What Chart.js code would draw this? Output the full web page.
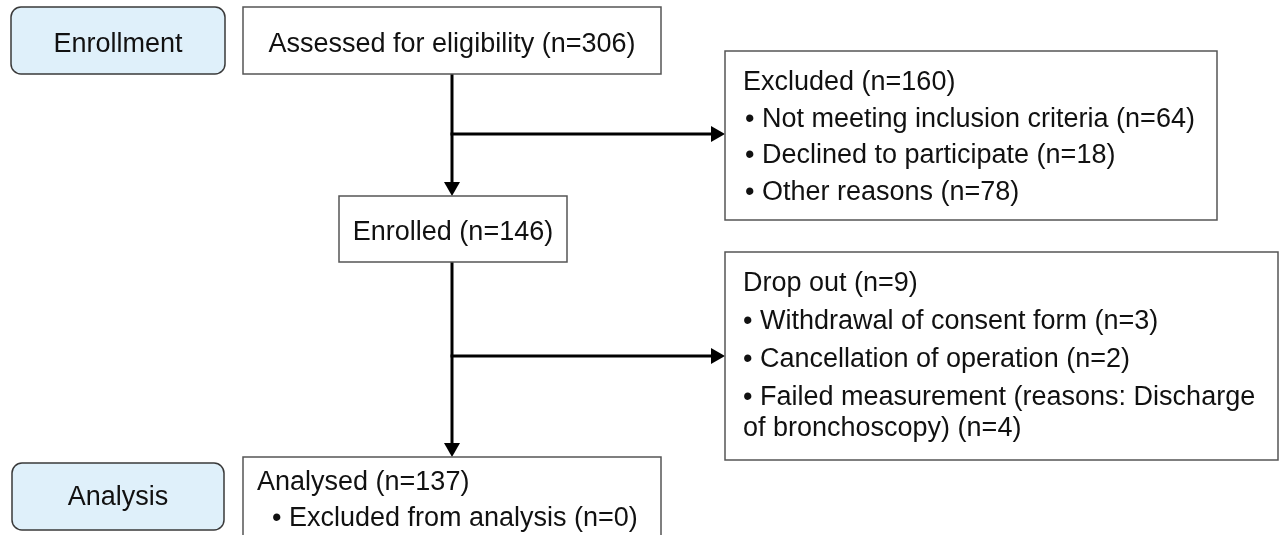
<!DOCTYPE html>
<html>
<head>
<meta charset="utf-8">
<script src="https://cdn.jsdelivr.net/npm/chart.js@4.4.1/dist/chart.umd.min.js"></script>
<style>
  html, body { margin: 0; padding: 0; background: #ffffff; }
  #wrap { width: 1280px; height: 535px; position: relative; }
</style>
</head>
<body>
<div id="wrap"><canvas id="flow"></canvas></div>
<script>
// CONSORT flow diagram, drawn on a blank Chart.js canvas with a small plugin

const stageLabels = ["Enrollment", "Analysis"];
const assessedCount = 306;
const enrolledCount = 146;
const analysedCount = 137;
const excludedReasons = ["Not meeting inclusion criteria", "Declined to participate", "Other reasons"];
const excludedCounts = [64, 18, 78];
const dropoutReasons = [
  "Withdrawal of consent form",
  "Cancellation of operation",
  "Failed measurement (reasons: Discharge of bronchoscopy)",
];
const dropoutCounts = [3, 2, 4];
const analysisExcludedCount = 0;

const sum = (arr) => arr.reduce((a, b) => a + b, 0);

// layout, in the units of the hidden x/y scales (0..1280, 0..535)
const layout = {
  stageEnroll: { x0: 11, y0: 7, x1: 225, y1: 74 },
  stageAnalysis: { x0: 12, y0: 463, x1: 224, y1: 530 },
  assessed: { x0: 243, y0: 7, x1: 661, y1: 74 },
  excluded: { x0: 725, y0: 51, x1: 1217, y1: 220 },
  enrolled: { x0: 339, y0: 196, x1: 567, y1: 262 },
  dropout: { x0: 725, y0: 252, x1: 1278, y1: 460 },
  analysed: { x0: 243, y0: 457, x1: 661, y1: 548 },
  trunkX: 452,
  branch1Y: 134,
  branch2Y: 356,
};

const FONT = '27px "Liberation Sans", Arial, sans-serif';
const TEXT = "#111111";

const flowPlugin = {
  id: "flow",
  afterDraw(chart) {
    const ctx = chart.ctx;
    const xs = chart.scales.x;
    const ys = chart.scales.y;
    const X = (v) => xs.getPixelForValue(v);
    const Y = (v) => ys.getPixelForValue(v);

    function rect(b, fill, stroke, radius) {
      const x = X(b.x0), y = Y(b.y0), w = X(b.x1) - x, h = Y(b.y1) - y;
      ctx.beginPath();
      if (radius) ctx.roundRect(x, y, w, h, radius);
      else ctx.rect(x, y, w, h);
      ctx.fillStyle = fill;
      ctx.fill();
      ctx.lineWidth = 1.5;
      ctx.strokeStyle = stroke;
      ctx.stroke();
    }

    function centerText(str, b, baseline) {
      ctx.font = FONT;
      ctx.fillStyle = TEXT;
      ctx.textAlign = "center";
      ctx.textBaseline = "alphabetic";
      ctx.fillText(str, X((b.x0 + b.x1) / 2), Y(baseline));
    }

    function wrap(str, maxW) {
      const words = str.split(" ");
      const lines = [];
      let cur = "";
      words.forEach((w) => {
        const test = cur ? cur + " " + w : w;
        if (ctx.measureText(test).width > maxW && cur) {
          lines.push(cur);
          cur = w;
        } else {
          cur = test;
        }
      });
      if (cur) lines.push(cur);
      return lines;
    }

    // paragraphs: first one is the heading, the rest are bullet items
    function listText(b, heading, items, opts) {
      ctx.font = FONT;
      ctx.fillStyle = TEXT;
      ctx.textAlign = "left";
      ctx.textBaseline = "alphabetic";
      let yy = opts.first;
      ctx.fillText(heading, X(opts.left), Y(yy));
      items.forEach((it) => {
        yy += opts.paraGap;
        const lines = wrap(it, opts.maxW);
        lines.forEach((ln, i) => {
          if (i > 0) yy += opts.lineGap;
          ctx.fillText(ln, X(opts.itemLeft), Y(yy));
        });
      });
    }

    function arrow(x0, y0, x1, y1) {
      const ang = Math.atan2(Y(y1) - Y(y0), X(x1) - X(x0));
      const len = 14, half = 8;
      ctx.strokeStyle = "#000";
      ctx.lineWidth = 3;
      ctx.beginPath();
      ctx.moveTo(X(x0), Y(y0));
      ctx.lineTo(X(x1) - Math.cos(ang) * len, Y(y1) - Math.sin(ang) * len);
      ctx.stroke();
      const tx = X(x1), ty = Y(y1);
      const bx = tx - Math.cos(ang) * len, by = ty - Math.sin(ang) * len;
      ctx.beginPath();
      ctx.moveTo(tx, ty);
      ctx.lineTo(bx - Math.sin(ang) * half, by + Math.cos(ang) * half);
      ctx.lineTo(bx + Math.sin(ang) * half, by - Math.cos(ang) * half);
      ctx.closePath();
      ctx.fillStyle = "#000";
      ctx.fill();
    }

    ctx.save();

    // connectors
    const L = layout;
    arrow(L.trunkX, L.assessed.y1, L.trunkX, L.enrolled.y0);
    arrow(L.trunkX - 1.5, L.branch1Y, L.excluded.x0, L.branch1Y);
    arrow(L.trunkX, L.enrolled.y1, L.trunkX, L.analysed.y0);
    arrow(L.trunkX - 1.5, L.branch2Y, L.dropout.x0, L.branch2Y);

    // stage labels
    rect(L.stageEnroll, "#dff0fa", "#3a3a3a", 10);
    centerText(stageLabels[0], L.stageEnroll, 52);
    rect(L.stageAnalysis, "#dff0fa", "#3a3a3a", 10);
    centerText(stageLabels[1], L.stageAnalysis, 505);

    // main column
    rect(L.assessed, "#ffffff", "#555555");
    centerText("Assessed for eligibility (n=" + assessedCount + ")", L.assessed, 52);
    rect(L.enrolled, "#ffffff", "#555555");
    centerText("Enrolled (n=" + enrolledCount + ")", L.enrolled, 240);
    rect(L.analysed, "#ffffff", "#555555");
    listText(L.analysed, "Analysed (n=" + analysedCount + ")",
      ["\u2022 Excluded from analysis (n=" + analysisExcludedCount + ")"],
      { first: 490, left: 257, itemLeft: 272, paraGap: 36, lineGap: 31, maxW: 400 });

    // side boxes
    rect(L.excluded, "#ffffff", "#555555");
    listText(L.excluded, "Excluded (n=" + sum(excludedCounts) + ")",
      excludedReasons.map((r, i) => "\u2022 " + r + " (n=" + excludedCounts[i] + ")"),
      { first: 90, left: 743, itemLeft: 745, paraGap: 36.7, lineGap: 31, maxW: 470 });

    rect(L.dropout, "#ffffff", "#555555");
    listText(L.dropout, "Drop out (n=" + sum(dropoutCounts) + ")",
      dropoutReasons.map((r, i) => "\u2022 " + r + " (n=" + dropoutCounts[i] + ")"),
      { first: 291, left: 743, itemLeft: 743, paraGap: 38, lineGap: 31, maxW: 530 });

    ctx.restore();
  },
};

new Chart(document.getElementById("flow"), {
  type: "scatter",
  data: { datasets: [] },
  options: {
    responsive: true,
    maintainAspectRatio: false,
    animation: false,
    layout: { padding: 0 },
    plugins: {
      legend: { display: false },
      tooltip: { enabled: false },
    },
    scales: {
      x: { type: "linear", min: 0, max: 1280, display: false },
      y: { type: "linear", min: 0, max: 535, reverse: true, display: false },
    },
  },
  plugins: [flowPlugin],
});
</script>
</body>
</html>
